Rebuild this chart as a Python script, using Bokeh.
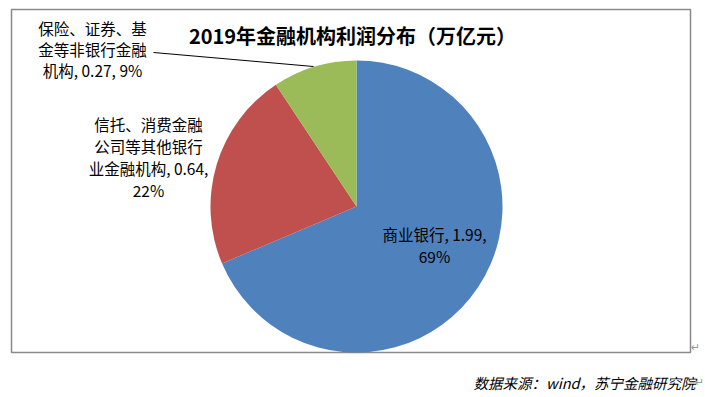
import math
from bokeh.plotting import figure
from bokeh.models import Range1d
from bokeh.core.properties import value
from bokeh.embed import file_html
from bokeh.resources import INLINE

# ---- data ----
title_text = "2019年金融机构利润分布（万亿元）"
categories = ["商业银行", "信托、消费金融公司等其他银行业金融机构", "保险、证券、基金等非银行金融机构"]
values = [1.99, 0.64, 0.27]
percents = ["69%", "22%", "9%"]
colors = ["#4F81BD", "#C0504D", "#9BBB59"]
source_text = "数据来源：wind，苏宁金融研究院"

# ---- layout ----
W, H = 703, 395
def sx(px):
    return px
def sy(py):
    return H - py

FONT = "Noto Sans CJK SC"

p = figure(width=W, height=H, output_backend="svg", toolbar_location=None,
           x_range=Range1d(0, W), y_range=Range1d(0, H), min_border=0)
p.axis.visible = False
p.grid.visible = False
p.outline_line_color = None
p.background_fill_color = "white"
p.border_fill_color = "white"

# chart frame
p.quad(left=[sx(11)], right=[sx(690)], top=[sy(9)], bottom=[sy(352)],
       fill_color=None, line_color="#8a8a8a", line_width=1.5)

# pie
cx, cy, r = sx(356), sy(206), 146
total = sum(values)
cum = 0.0
starts, ends = [], []
for v in values:
    starts.append(math.pi / 2 - 2 * math.pi * cum / total)
    cum += v
    ends.append(math.pi / 2 - 2 * math.pi * cum / total)
p.wedge(x=[cx] * 3, y=[cy] * 3, radius=r, start_angle=starts, end_angle=ends,
        direction="clock", fill_color=colors, line_color=None)

# labels
full = [f"{c}, {v:.2f}, {pc}" for c, v, pc in zip(categories, values, percents)]
def split_at(s, idxs):
    out, prev = [], 0
    for i in idxs:
        out.append(s[prev:i].strip())
        prev = i
    out.append(s[prev:].strip())
    return out

label_lines = [
    split_at(full[0], [11]),
    split_at(full[1], [7, 14, 26]),
    split_at(full[2], [7, 14]),
]
label_pos = [
    (434, [233, 255]),
    (148, [123, 145, 167, 189]),
    (92, [27, 48, 69]),
]
for lines, (lx, ys) in zip(label_lines, label_pos):
    p.text(x=[sx(lx)] * len(lines), y=[sy(yy) for yy in ys], text=lines,
           text_font=value(FONT), text_font_size="15.5px", text_color="#000000",
           text_align="center", text_baseline="middle")

# leader line for small slice
p.line(x=[sx(153), sx(313)], y=[sy(52), sy(66)], line_color="#000000", line_width=1)

# title
p.text(x=[sx(352)], y=[sy(35)], text=[title_text], text_font=value(FONT),
       text_font_size="20px", text_font_style="bold", text_color="#000000",
       text_align="center", text_baseline="middle")

# source note
p.text(x=[sx(695)], y=[sy(382)], text=[source_text], text_font=value(FONT),
       text_font_size="14.5px", text_font_style="italic", text_color="#000000",
       text_align="right", text_baseline="middle")

# paragraph marks
p.text(x=[sx(695), sx(699)], y=[sy(347), sy(382)], text=["↵", "↵"],
       text_font=value("DejaVu Sans"),
       text_font_size="11px", text_color="#9a9a9a",
       text_align="center", text_baseline="middle")

open("out.html", "w").write(file_html(p, INLINE))
